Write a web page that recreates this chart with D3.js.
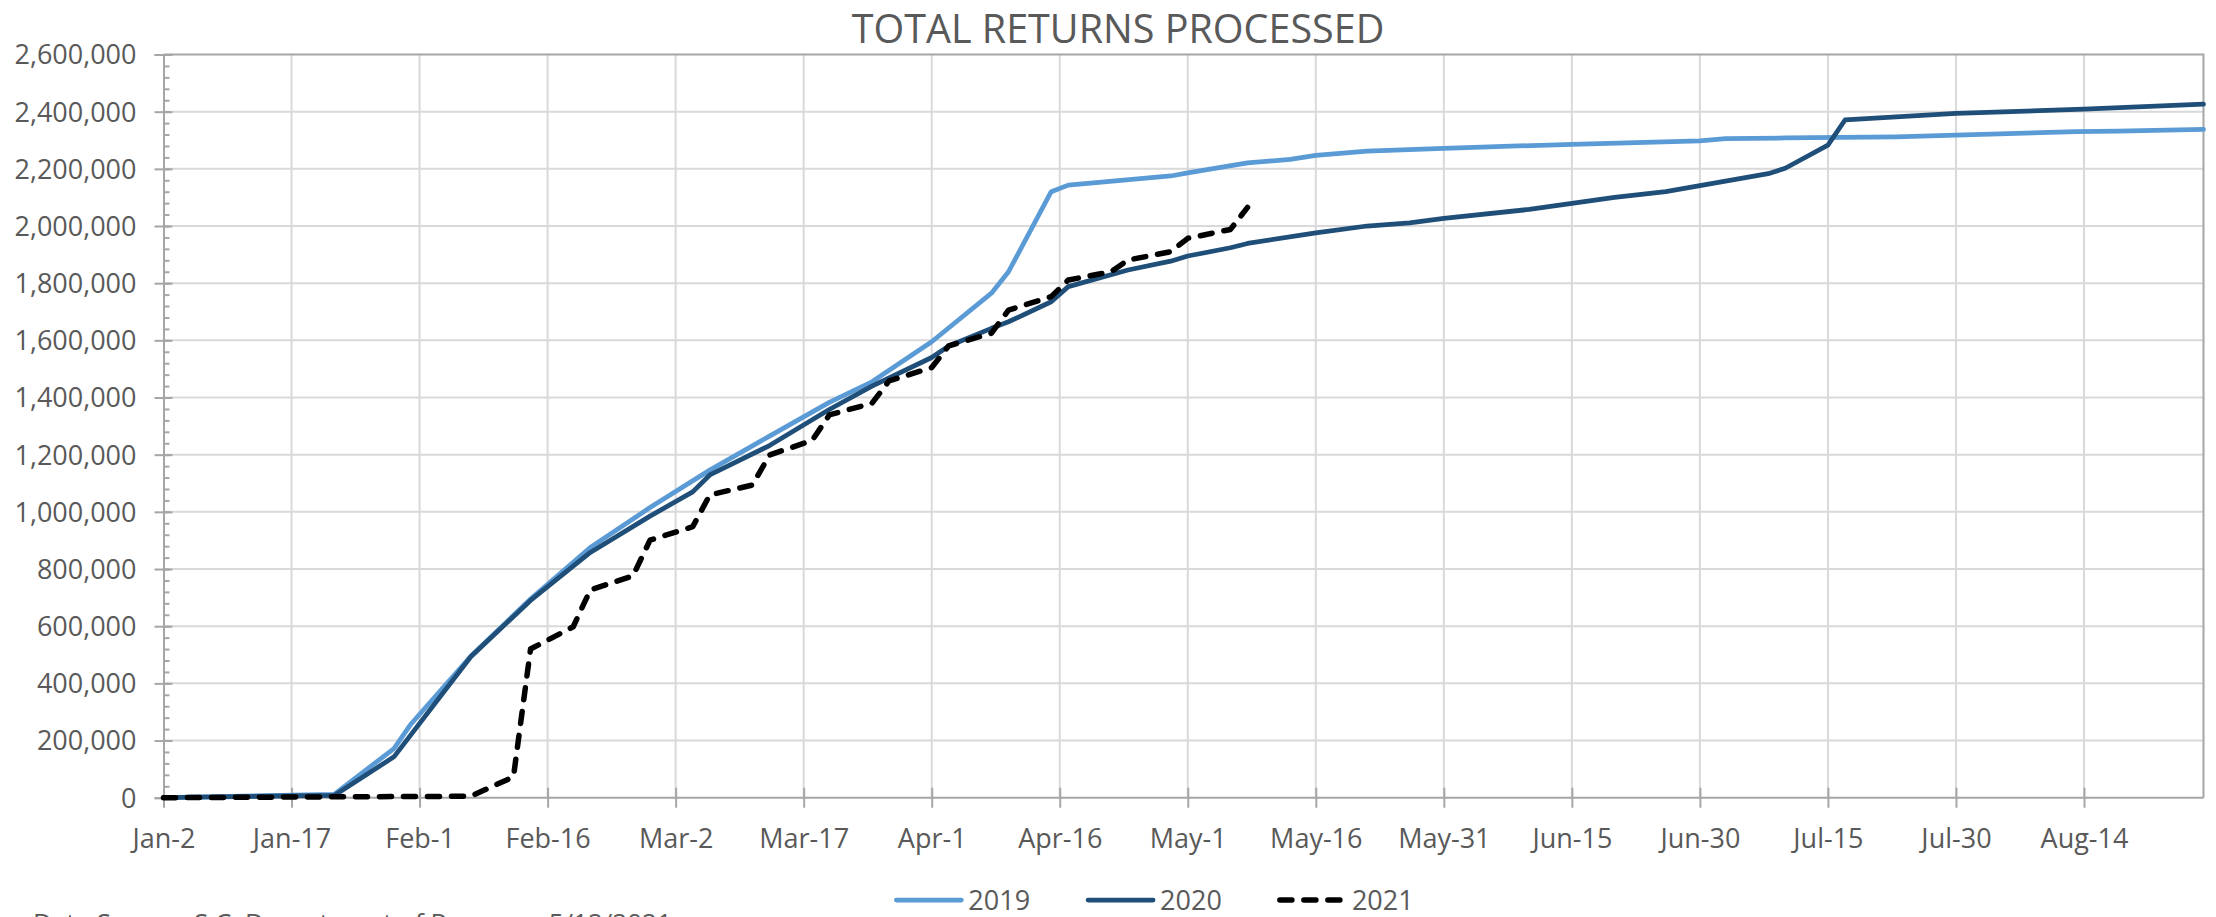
<!DOCTYPE html>
<html>
<head>
<meta charset="utf-8">
<script src="https://cdn.jsdelivr.net/npm/d3@7"></script>
<style>
  html, body { margin: 0; padding: 0; background: #ffffff; }
  svg { display: block; font-family: "Open Sans", "Noto Sans", sans-serif; }
</style>
</head>
<body>
<svg id="chart" width="2216" height="917"></svg>
<script>

// ---- data (values = total returns processed) ----

const xTickLabels = ['Jan-2', 'Jan-17', 'Feb-1', 'Feb-16', 'Mar-2', 'Mar-17', 'Apr-1', 'Apr-16',
  'May-1', 'May-16', 'May-31', 'Jun-15', 'Jun-30', 'Jul-15', 'Jul-30', 'Aug-14'];
const xDomainLabels = ['Jan-2', 'Aug-28'];

const seriesNames = ['2019', '2020', '2021'];

const dates2019 = ['Jan-2', 'Jan-22', 'Jan-29', 'Jan-31', 'Feb-7', 'Feb-14', 'Feb-21', 'Feb-28',
  'Mar-6', 'Mar-13', 'Mar-20', 'Mar-25', 'Apr-1', 'Apr-8', 'Apr-10', 'Apr-15', 'Apr-17',
  'Apr-29', 'May-1', 'May-8', 'May-13', 'May-16', 'May-22', 'May-31', 'Jun-15', 'Jun-30',
  'Jul-3', 'Jul-10', 'Jul-23', 'Jul-30', 'Aug-13', 'Aug-18', 'Aug-28'];
const values2019 = [0, 12000, 172000, 258000, 495000, 695000, 875000, 1015000,
  1146000, 1265000, 1383000, 1455000, 1595000, 1765000, 1840000, 2120000, 2143000,
  2175000, 2186000, 2221000, 2233000, 2247000, 2262000, 2272000, 2286000, 2298000,
  2306000, 2308000, 2312000, 2318000, 2330000, 2332000, 2338000];

const dates2020 = ['Jan-2', 'Jan-22', 'Jan-29', 'Feb-7', 'Feb-14', 'Feb-21', 'Feb-28', 'Mar-4',
  'Mar-6', 'Mar-13', 'Mar-20', 'Mar-25', 'Apr-1', 'Apr-3', 'Apr-8', 'Apr-10', 'Apr-15',
  'Apr-17', 'Apr-24', 'Apr-29', 'May-1', 'May-6', 'May-8', 'May-16', 'May-22', 'May-27',
  'May-31', 'Jun-10', 'Jun-15', 'Jun-20', 'Jun-26', 'Jun-30', 'Jul-8', 'Jul-10', 'Jul-15',
  'Jul-17', 'Jul-30', 'Aug-14', 'Aug-28'];
const values2020 = [0, 8000, 143000, 493000, 690000, 858000, 985000, 1070000,
  1129000, 1232000, 1358000, 1440000, 1540000, 1580000, 1642000, 1665000, 1735000,
  1788000, 1846000, 1877000, 1895000, 1924000, 1939000, 1976000, 2000000, 2011000,
  2027000, 2058000, 2079000, 2100000, 2120000, 2141000, 2183000, 2202000, 2283000,
  2371000, 2394000, 2409000, 2426000];

const dates2021 = ['Jan-2', 'Jan-22', 'Feb-7', 'Feb-12', 'Feb-14', 'Feb-19', 'Feb-21', 'Feb-26',
  'Feb-28', 'Mar-4', 'Mar-6', 'Mar-11', 'Mar-13', 'Mar-18', 'Mar-20', 'Mar-25', 'Mar-27',
  'Apr-1', 'Apr-3', 'Apr-8', 'Apr-10', 'Apr-15', 'Apr-17', 'Apr-22', 'Apr-24', 'Apr-29',
  'May-1', 'May-6', 'May-8'];
const values2021 = [0, 3000, 5000, 73000, 520000, 598000, 727000, 776000,
  901000, 948000, 1059000, 1094000, 1199000, 1250000, 1339000, 1380000, 1458000,
  1505000, 1581000, 1625000, 1706000, 1753000, 1811000, 1840000, 1881000, 1910000,
  1957000, 1988000, 2065000];


/**
 * @private
 * @class
 */
class ReturnsChart {


  /**
   * @public
   * @constructor
   * @param {SVGElement} svg
   */
  constructor(svg) {

    this._svg = d3.select(svg);
    this._parse = s => d3.utcParse('%b-%d-%Y')(s + '-2020');

    this._left = 163.5;
    this._right = 2203.5;
    this._top = 54.5;
    this._bottom = 797.7;

    this._x = d3.scaleUtc()
      .domain(xDomainLabels.map(this._parse))
      .range([this._left, this._right]);

    this._y = d3.scaleLinear()
      .domain([0, 2600000])
      .range([this._bottom, this._top]);
  }


  /**
   * Zip a dates list and a values list.
   * @public
   * @returns {Array}
   */
  toPoints(dates, values) {

    return dates.map((d, i) => ({ date: this._parse(d), value: values[i] }));
  }


  /**
   * Render everything.
   * @public
   * @returns {ReturnsChart}
   */
  render() {

    this.renderGrid();
    this.renderAxes();
    this.renderLines();
    this.renderTexts();
    this.renderLegend();

    return this;
  }


  /**
   * Gridlines.
   * @public
   */
  renderGrid() {

    const grid = this._svg.append('g').attr('class', 'grid');
    const xTicks = xTickLabels.map(this._parse);

    grid.selectAll('.vgrid')
      .data(xTicks.slice(1))
      .enter()
      .append('line')
      .attr('x1', d => this._x(d))
      .attr('x2', d => this._x(d))
      .attr('y1', this._top)
      .attr('y2', this._bottom)
      .style('stroke', '#d9d9d9')
      .style('stroke-width', 2);

    grid.selectAll('.hgrid')
      .data(this._y.ticks(13).slice(1, -1))
      .enter()
      .append('line')
      .attr('x1', this._left)
      .attr('x2', this._right)
      .attr('y1', d => this._y(d))
      .attr('y2', d => this._y(d))
      .style('stroke', '#d9d9d9')
      .style('stroke-width', 2);

    // plot area border (top and right)
    grid.append('path')
      .attr('d', `M${this._left},${this._top}H${this._right}V${this._bottom}`)
      .style('fill', 'none')
      .style('stroke', '#a6a6a6')
      .style('stroke-width', 2);
  }


  /**
   * Axes.
   * @public
   */
  renderAxes() {

    const xTicks = xTickLabels.map(this._parse);

    const minor = this._svg.append('g')
      .attr('transform', `translate(${this._left},0)`)
      .call(d3.axisRight(this._y).tickValues(d3.range(0, 2600001, 40000)).tickSize(6).tickFormat(''));
    minor.select('.domain').remove();
    minor.selectAll('line').style('stroke', '#a6a6a6').style('stroke-width', 2);

    const yAxis = this._svg.append('g')
      .attr('transform', `translate(${this._left},0)`)
      .call(d3.axisLeft(this._y).ticks(13).tickSize(9).tickFormat(d3.format(',')));
    yAxis.selectAll('line').attr('x2', -9).attr('x1', 9);

    const xAxis = this._svg.append('g')
      .attr('transform', `translate(0,${this._bottom})`)
      .call(d3.axisBottom(this._x).tickValues(xTicks).tickSize(10)
        .tickFormat((d, i) => xTickLabels[i]));
    xAxis.selectAll('line').attr('y1', -10).attr('y2', 10);

    [xAxis, yAxis].forEach(axis => {
      axis.select('.domain')
        .style('stroke', '#a6a6a6')
        .style('stroke-width', 2);
      axis.selectAll('line')
        .style('stroke', '#a6a6a6')
        .style('stroke-width', 2);
      axis.selectAll('text')
        .style('fill', '#595959')
        .style('font-family', '"Open Sans", sans-serif')
        .style('font-size', '27px');
    });

    yAxis.selectAll('text').attr('x', -27).attr('dy', '0.35em');
    xAxis.selectAll('text').attr('y', 50).attr('dy', 0);
    xAxis.select('.domain').attr('d', `M${this._left},0H${this._right}`);
  }


  /**
   * Series lines.
   * @public
   */
  renderLines() {

    const line = d3.line()
      .x(d => this._x(d.date))
      .y(d => this._y(d.value));

    const g = this._svg.append('g').attr('class', 'lines');

    g.append('path')
      .datum(this.toPoints(dates2019, values2019))
      .attr('d', line)
      .style('fill', 'none')
      .style('stroke', '#5b9bd5')
      .style('stroke-width', 4.75)
      .style('stroke-linejoin', 'round')
      .style('stroke-linecap', 'round');

    g.append('path')
      .datum(this.toPoints(dates2020, values2020))
      .attr('d', line)
      .style('fill', 'none')
      .style('stroke', '#1f4e79')
      .style('stroke-width', 4.75)
      .style('stroke-linejoin', 'round')
      .style('stroke-linecap', 'round');

    g.append('path')
      .datum(this.toPoints(dates2021, values2021))
      .attr('d', line)
      .style('fill', 'none')
      .style('stroke', '#000000')
      .style('stroke-width', 5.5)
      .style('stroke-dasharray', '12 12')
      .style('stroke-linejoin', 'round')
      .style('stroke-linecap', 'round');
  }


  /**
   * Title and source note.
   * @public
   */
  renderTexts() {

    this._svg.append('text')
      .attr('x', 1118)
      .attr('y', 43)
      .attr('text-anchor', 'middle')
      .style('fill', '#595959')
      .style('font-size', '39.5px')
      .text('TOTAL RETURNS PROCESSED');

    // source note sits on the bottom edge, mostly cut off as in the original
    this._svg.append('text')
      .attr('x', 33)
      .attr('y', 932)
      .style('fill', '#595959')
      .style('font-size', '26px')
      .text('Data Source: S.C. Department of Revenue, 5/12/2021');
  }


  /**
   * Legend under the x axis.
   * @public
   */
  renderLegend() {

    const styles = [
      { stroke: '#5b9bd5', width: 4.75, dash: null },
      { stroke: '#1f4e79', width: 4.75, dash: null },
      { stroke: '#000000', width: 5.5, dash: '12 12' }
    ];

    const legend = this._svg.append('g').attr('class', 'legend');
    let cursor = 0;

    seriesNames.forEach((name, i) => {
      const item = legend.append('g').attr('transform', `translate(${cursor},0)`);

      item.append('line')
        .attr('x1', 2).attr('x2', 67)
        .attr('y1', 0).attr('y2', 0)
        .style('stroke', styles[i].stroke)
        .style('stroke-width', styles[i].width)
        .style('stroke-linecap', 'round')
        .style('stroke-dasharray', styles[i].dash);

      const label = item.append('text')
        .attr('x', 74)
        .attr('y', 9.5)
        .style('fill', '#595959')
        .style('font-size', '27px')
        .text(name);

      cursor += 74 + label.node().getComputedTextLength() + 56;
    });

    const total = cursor - 56;
    legend.attr('transform', `translate(${1154 - total / 2},900)`);
  }
}

new ReturnsChart(document.getElementById('chart')).render();
</script>
</body>
</html>
